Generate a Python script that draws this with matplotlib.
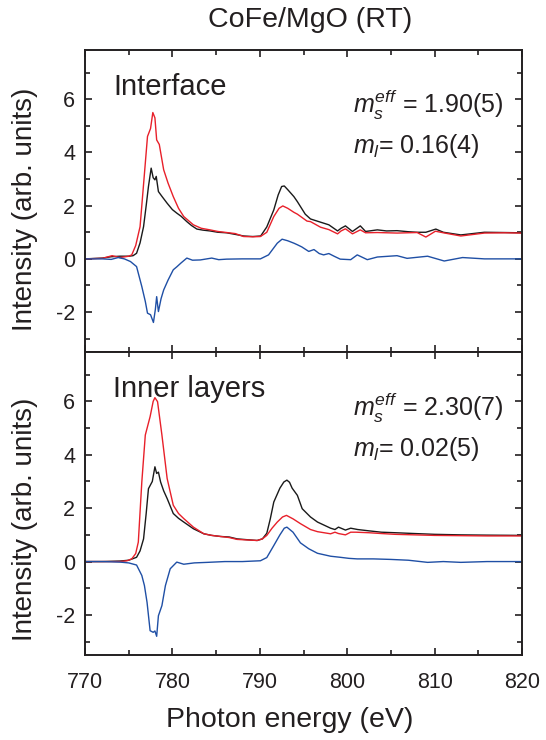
import numpy as np
import matplotlib
matplotlib.use("Agg")
import matplotlib.pyplot as plt
from matplotlib.ticker import MultipleLocator

plt.rcParams['font.family'] = ['Liberation Sans', 'DejaVu Sans']
plt.rcParams['mathtext.fontset'] = 'custom'
plt.rcParams['mathtext.rm'] = 'Liberation Sans'
plt.rcParams['mathtext.it'] = 'Liberation Sans:italic'
plt.rcParams['axes.unicode_minus'] = False

# Interface spectra
e_if_black = [770, 772, 773, 774, 775, 775.5, 775.9, 776.3, 776.7, 777.0, 777.26, 777.57, 777.8, 778.0,
              778.15, 778.4, 778.8, 779.4, 780.0, 780.5, 781.0, 781.65, 782.2, 782.8, 783.5, 784.3, 785.2,
              786.2, 787.2, 788.15, 789.2, 790.1, 790.8, 791.6, 792.1, 792.5, 792.8, 793.2, 793.9, 794.3,
              795.2, 795.8, 796.75, 797.9, 798.9, 799.3, 799.8, 800.6, 801.5, 802.1, 803.45, 804.5, 805.7,
              807, 808.0, 809.0, 810.14, 811, 813.0, 815.7, 818, 820]
if_black = [0.0, 0.03, 0.08, 0.1, 0.1, 0.12, 0.21, 0.6, 1.21, 2.0, 2.72, 3.41, 3.05, 2.97,
            3.1, 2.53, 2.35, 2.09, 1.85, 1.72, 1.6, 1.40, 1.25, 1.12, 1.08, 1.05, 1.0,
            0.98, 0.92, 0.86, 0.84, 0.86, 1.2, 1.84, 2.4, 2.72, 2.74, 2.6, 2.34, 2.15,
            1.68, 1.5, 1.40, 1.28, 1.05, 1.15, 1.24, 1.03, 1.24, 1.03, 1.09, 1.05, 1.06,
            1.02, 1.0, 1.0, 1.12, 1.0, 0.9, 1.0, 0.99, 0.98]

e_if_red = [770, 772, 773.1, 774, 775, 775.35, 775.8, 776.3, 776.7, 777.15, 777.5, 777.76, 778.0, 778.2,
            778.5, 779.0, 779.5, 780.1, 780.7, 781.3, 782.4, 783.3, 784.3, 785.2, 786.2, 787.2, 788.15,
            789.2, 790.07, 790.8, 791.6, 792.2, 792.63, 793.2, 793.9, 794.3, 795.4, 795.8, 796.95, 797.9,
            798.9, 799.3, 799.8, 800.6, 801.5, 802.1, 803.45, 805.7, 808.0, 809.0, 810.1, 811, 813, 815.7,
            818, 820]
if_red = [0.0, 0.02, 0.12, 0.05, 0.1, 0.15, 0.5, 1.21, 2.8, 4.6, 4.9, 5.5, 5.3, 4.47,
          4.3, 3.35, 2.85, 2.34, 1.9, 1.59, 1.28, 1.15, 1.09, 1.03, 0.99, 0.95, 0.84,
          0.83, 0.84, 1.0, 1.59, 1.9, 1.99, 1.9, 1.75, 1.68, 1.42, 1.4, 1.19, 1.1,
          0.94, 1.05, 1.13, 0.94, 1.09, 0.98, 0.99, 0.97, 0.99, 0.82, 1.04, 0.98, 0.86, 0.97,
          0.98, 0.97]

e_if_blue = [770, 772, 773, 773.8, 774.5, 775.2, 775.9, 776.5, 776.9, 777.15, 777.5, 777.83, 778.05,
             778.2, 778.4, 778.7, 779.0, 779.5, 780.1, 780.5, 781.0, 781.65, 782.3, 783.2, 784.5, 785.3,
             786.2, 788, 790.07, 791, 792.0, 792.55, 793.2, 793.9, 794.3, 794.8, 795.6, 796.2, 796.8,
             797.3, 797.9, 798.5, 799.2, 800.4, 801.15, 802.3, 803.45, 805.7, 806.85, 809.2, 811.1,
             813.2, 815.7, 818, 820]
if_blue = [0.0, 0.0, -0.02, 0.05, 0.0, -0.1, -0.29, -1.04, -1.6, -2.04, -2.1, -2.39, -1.9,
           -1.42, -1.98, -1.5, -1.17, -0.8, -0.41, -0.3, -0.15, 0.03, -0.05, -0.04, 0.03, -0.03,
           -0.01, 0.0, 0.0, 0.15, 0.59, 0.74, 0.68, 0.59, 0.53, 0.45, 0.28, 0.35, 0.2,
           0.15, 0.2, 0.1, -0.01, -0.03, 0.15, -0.03, 0.07, 0.12, 0.02, 0.1, -0.08,
           0.05, 0.0, 0.0, 0.0]

# Inner layer spectra
e_in_black = [770, 772, 774, 775, 775.9, 776.3, 776.7, 777.0, 777.26, 777.7, 778.0, 778.2, 778.4, 778.65,
              779.0, 779.4, 780.1, 780.7, 781.3, 782.4, 783.6, 784.5, 785.5, 786.5, 787.4, 788.5, 789.7,
              790.3, 790.8, 791.2, 791.6, 792.3, 792.75, 793.1, 793.4, 793.7, 794.3, 794.85, 795.8, 796.6,
              798.1, 798.6, 799.0, 799.8, 800.4, 801.2, 802.5, 803.9, 805.5, 807.7, 810, 813, 816, 820]
in_black = [0.0, 0.0, 0.02, 0.05, 0.16, 0.4, 0.85, 1.8, 2.73, 3.0, 3.55, 3.3, 3.35, 2.98,
            2.65, 2.36, 1.80, 1.62, 1.48, 1.23, 1.04, 0.98, 0.94, 0.92, 0.85, 0.82, 0.79,
            0.85, 1.06, 1.6, 2.23, 2.75, 2.98, 3.05, 2.97, 2.75, 2.48, 1.98, 1.67, 1.48,
            1.25, 1.2, 1.29, 1.18, 1.25, 1.2, 1.15, 1.1, 1.08, 1.05, 1.02, 1.0, 0.99, 0.98]

e_in_red = [770, 772, 774, 774.8, 775.35, 775.8, 776.1, 776.5, 776.9, 777.45, 777.8, 778.0, 778.3, 778.8,
            779.4, 780.1, 780.7, 781.3, 782.4, 783.6, 784.5, 785.5, 786.5, 787.4, 788.5, 789.7, 790.3,
            790.8, 791.4, 792.0, 792.6, 793.05, 793.8, 794.65, 795.8, 796.6, 798.1, 798.6, 799.0, 799.8,
            800.4, 801.0, 802.5, 803.9, 805.5, 807.7, 810, 813, 816, 820]
in_red = [0.0, 0.0, 0.0, 0.03, 0.1, 0.3, 0.73, 2.98, 4.74, 5.43, 6.0, 6.14, 5.99, 4.74,
          3.11, 2.11, 1.8, 1.61, 1.29, 1.04, 0.98, 0.94, 0.9, 0.83, 0.81, 0.79, 0.85,
          0.98, 1.25, 1.48, 1.67, 1.73, 1.6, 1.42, 1.2, 1.12, 1.04, 1.1, 1.05, 1.0,
          1.1, 1.1, 1.08, 1.05, 1.02, 1.0, 0.98, 0.97, 0.96, 0.96]

e_in_blue = [770, 772, 774, 775, 775.9, 776.5, 776.8, 777.1, 777.45, 777.8, 778.0, 778.2, 778.4, 778.8,
             779.2, 779.75, 780.5, 781.3, 782.5, 784, 786, 788, 790.07, 790.8, 791.6, 792.3, 792.8,
             793.1, 793.8, 794.65, 795.6, 796.6, 798.1, 799.2, 800.2, 801.15, 803, 805, 807, 809.2,
             811, 813, 816, 820]
in_blue = [0.0, 0.0, -0.02, -0.05, -0.13, -0.52, -0.9, -1.53, -2.59, -2.65, -2.6, -2.8, -2.03, -1.65,
           -0.9, -0.27, -0.02, -0.1, -0.05, -0.03, 0.0, 0.0, 0.03, 0.15, 0.6, 1.0, 1.25,
           1.29, 1.1, 0.7, 0.48, 0.31, 0.2, 0.16, 0.12, 0.1, 0.1, 0.08, 0.05, -0.03,
           0.0, -0.03, 0.0, 0.0]

panel_names = ["Interface", "Inner layers"]
ms_text = [r"$m_s^{eff}$ = 1.90(5)", r"$m_s^{eff}$ = 2.30(7)"]
ml_text = [r"$m_l$= 0.16(4)", r"$m_l$= 0.02(5)"]

black_c = '#1a1a1a'
red_c = '#e8202a'
blue_c = '#1f4fa5'

fig = plt.figure(figsize=(5.46, 7.4), dpi=100)
ax1 = fig.add_axes([85/546, 1-352/740, 437/546, 302/740])
ax2 = fig.add_axes([85/546, 1-655/740, 437/546, 303/740])

data = [(e_if_black, if_black, e_if_red, if_red, e_if_blue, if_blue),
        (e_in_black, in_black, e_in_red, in_red, e_in_blue, in_blue)]

for i, ax in enumerate([ax1, ax2]):
    eb, b, er, r, eu, u = data[i]
    ax.plot(eb, b, color=black_c, lw=1.0)
    ax.plot(er, r, color=red_c, lw=1.0)
    ax.plot(eu, u, color=blue_c, lw=1.0)
    ax.set_xlim(770, 820)
    ax.set_ylim(-3.5, 7.85)
    ax.xaxis.set_major_locator(MultipleLocator(10))
    ax.xaxis.set_minor_locator(MultipleLocator(5))
    ax.yaxis.set_major_locator(MultipleLocator(2))
    ax.yaxis.set_minor_locator(MultipleLocator(1))
    ax.tick_params(which='both', direction='in', top=True, right=True, width=1.2, colors='#231f20')
    ax.tick_params(which='major', length=5)
    ax.tick_params(which='minor', length=3.5)
    ax.tick_params(axis='y', labelsize=15.5, pad=7)
    ax.tick_params(axis='x', labelsize=15.5, pad=12)
    for sp in ax.spines.values():
        sp.set_linewidth(1.4)
        sp.set_color('#231f20')
    ax.text(0.064, 0.925, panel_names[i], transform=ax.transAxes, fontsize=21,
            ha='left', va='top', color='#231f20')
    ax.text(0.613, 0.79, ms_text[i], transform=ax.transAxes, fontsize=18,
            ha='left', va='baseline', color='#231f20')
    ax.text(0.613, 0.658, ml_text[i], transform=ax.transAxes, fontsize=18,
            ha='left', va='baseline', color='#231f20')

ax1.tick_params(axis='x', labelbottom=False)

fig.text(310/546, 1-20/740, "CoFe/MgO (RT)", ha='center', va='center', fontsize=20.5, color='#231f20')
fig.text(25/546, 1-209/740, "Intensity (arb. units)", rotation=90, ha='center', va='center',
         fontsize=20, color='#231f20')
fig.text(25/546, 1-519/740, "Intensity (arb. units)", rotation=90, ha='center', va='center',
         fontsize=20, color='#231f20')
fig.text(290/546, 1-720/740, "Photon energy (eV)", ha='center', va='center', fontsize=20.5, color='#231f20')

fig.savefig("out.png", dpi=100)
